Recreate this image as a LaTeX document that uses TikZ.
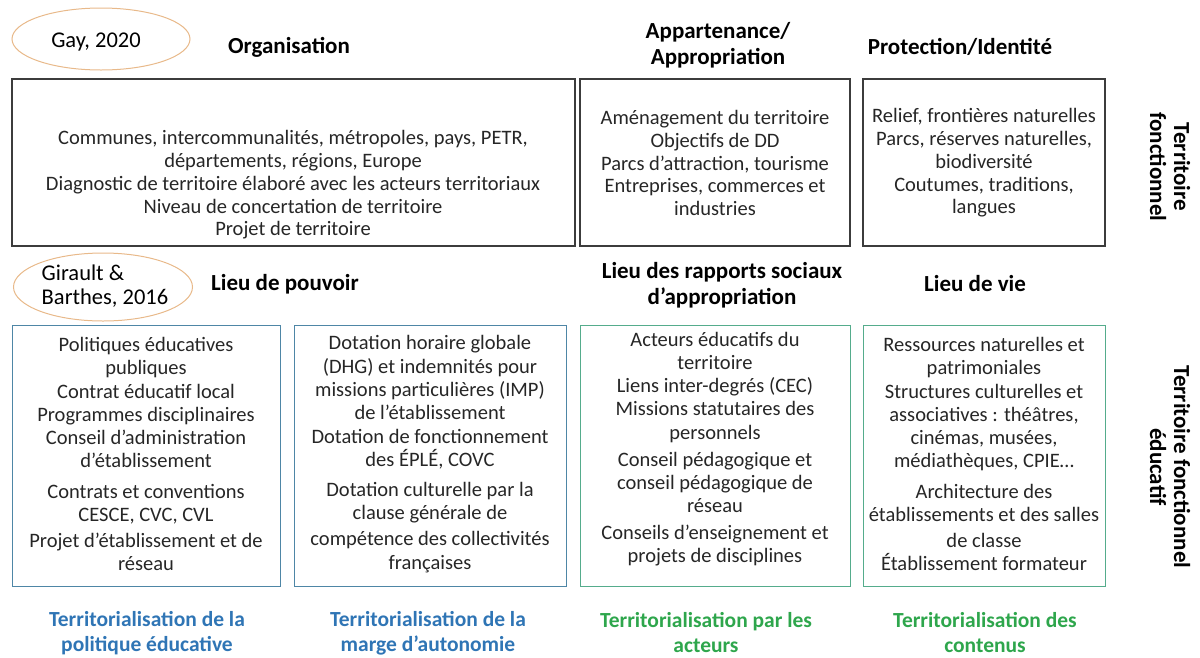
\documentclass[tikz,border=0pt]{standalone}
\usepackage{fontspec}
\setmainfont{Carlito}
\usetikzlibrary{positioning,shapes.geometric}

\definecolor{grisfonce}{HTML}{3C3C3C}
\definecolor{bleucadre}{HTML}{4E86A6}
\definecolor{vertcadre}{HTML}{55AC8C}
\definecolor{ocre}{HTML}{E8B98A}
\definecolor{bleutitre}{HTML}{2F75B5}
\definecolor{verttitre}{HTML}{2EA64C}

\begin{document}
\begin{tikzpicture}[x=1pt, y=-1pt,
  cadre/.style={draw=grisfonce, line width=1.1pt, inner sep=0pt},
  cadrebleu/.style={draw=bleucadre, line width=1pt, inner sep=0pt},
  cadrevert/.style={draw=vertcadre, line width=1pt, inner sep=0pt},
  contenu/.style={align=center, font=\fontsize{20.5}{22.7}\selectfont, text=black!85},
  contenub/.style={align=center, font=\fontsize{20.5}{23.3}\selectfont, text=black!85},
  entete/.style={align=center, font=\fontsize{23}{26}\selectfont\bfseries},
  source/.style={ellipse, draw=ocre, line width=1pt, inner sep=0pt},
  axe/.style={rotate=-90, align=center, font=\fontsize{23}{24}\selectfont\bfseries},
  bilan/.style={align=center, font=\fontsize{21.5}{25}\selectfont\bfseries}]

  % cadre de la page
  \useasboundingbox (0,0) rectangle (1200,657);

  % rangee du haut : territoire fonctionnel
  \node[source, minimum width=178, minimum height=62] (gay) at (101,39) {};
  \node[font=\fontsize{22.5}{24}\selectfont] (gaytxt) at (96,42) {Gay, 2020};

  \node[entete] (organisation) at (289,47) {Organisation};
  \node[entete] (appartenance) at (718,45) {Appartenance/\\Appropriation};
  \node[entete] (protection) at (960,47) {Protection/Identité};

  \node[cadre, minimum width=563, minimum height=167] (orgbox) at (293.5,162.5) {};
  \node[cadre, minimum width=270, minimum height=167] (appbox) at (715,162.5) {};
  \node[cadre, minimum width=242, minimum height=167] (probox) at (984,162.5) {};

  \node[contenu] (orgtxt) at (293,185) {Communes, intercommunalités, métropoles, pays, PETR,\\
    départements, régions, Europe\\
    Diagnostic de territoire élaboré avec les acteurs territoriaux\\
    Niveau de concertation de territoire\\
    Projet de territoire};
  \node[contenu] (apptxt) at (715,163) {Aménagement du territoire\\
    Objectifs de DD\\
    Parcs d’attraction, tourisme\\
    Entreprises, commerces et\\
    industries};
  \node[contenu] (protxt) at (984,163) {Relief, frontières naturelles\\
    Parcs, réserves naturelles,\\
    biodiversité\\
    Coutumes, traditions,\\
    langues};

  \node[axe] (fonctionnel) at (1170,167) {Territoire\\fonctionnel};

  % rangee du bas : territoire fonctionnel educatif
  \node[source, minimum width=179, minimum height=68] (girault) at (103,287) {};
  \node[align=left, font=\fontsize{22.5}{24}\selectfont] (giraulttxt) at (105,286) {Girault \&\\Barthes, 2016};

  \node[entete] (pouvoir) at (285,284) {Lieu de pouvoir};
  \node[entete] (rapports) at (722,285) {Lieu des rapports sociaux\\d’appropriation};
  \node[entete] (vie) at (975,284) {Lieu de vie};

  \node[cadrebleu, minimum width=268, minimum height=261] (polbox) at (146,455.5) {};
  \node[cadrebleu, minimum width=272, minimum height=261] (margbox) at (430,455.5) {};
  \node[cadrevert, minimum width=270, minimum height=261] (actbox) at (715,455.5) {};
  \node[cadrevert, minimum width=242, minimum height=261] (contbox) at (984,455.5) {};

  \node[contenub] (poltxt) at (146,454) {Politiques éducatives\\
    publiques\\
    Contrat éducatif local\\
    Programmes disciplinaires\\
    Conseil d’administration\\
    d’établissement\\[7pt]
    Contrats et conventions\\
    CESCE, CVC, CVL\\[2.5pt]
    Projet d’établissement et de\\
    réseau};
  \node[contenub] (margtxt) at (430,454) {Dotation horaire globale\\
    (DHG) et indemnités pour\\
    missions particulières (IMP)\\
    de l’établissement\\
    Dotation de fonctionnement\\
    des ÉPLÉ, COVC\\[7pt]
    Dotation culturelle par la\\
    clause générale de\\[2.5pt]
    compétence des collectivités\\
    françaises};
  \node[contenub] (acttxt) at (715,449) {Acteurs éducatifs du\\
    territoire\\
    Liens inter-degrés (CEC)\\
    Missions statutaires des\\
    personnels\\[3.5pt]
    Conseil pédagogique et\\
    conseil pédagogique de\\
    réseau\\[3.5pt]
    Conseils d’enseignement et\\
    projets de disciplines};
  \node[contenub] (conttxt) at (984,454) {Ressources naturelles et\\
    patrimoniales\\
    Structures culturelles et\\
    associatives : théâtres,\\
    cinémas, musées,\\
    médiathèques, CPIE…\\[7pt]
    Architecture des\\
    établissements et des salles\\[2.5pt]
    de classe\\
    Établissement formateur};

  \node[axe] (educatif) at (1170,467) {Territoire fonctionnel\\éducatif};

  % libelles de territorialisation
  \node[bilan, text=bleutitre] (tpol) at (147,633) {Territorialisation de la\\politique éducative};
  \node[bilan, text=bleutitre] (tmarg) at (428,633) {Territorialisation de la\\marge d’autonomie};
  \node[bilan, text=verttitre] (tact) at (706,633) {Territorialisation par les\\acteurs};
  \node[bilan, text=verttitre] (tcont) at (985,633) {Territorialisation des\\contenus};
\end{tikzpicture}
\end{document}
